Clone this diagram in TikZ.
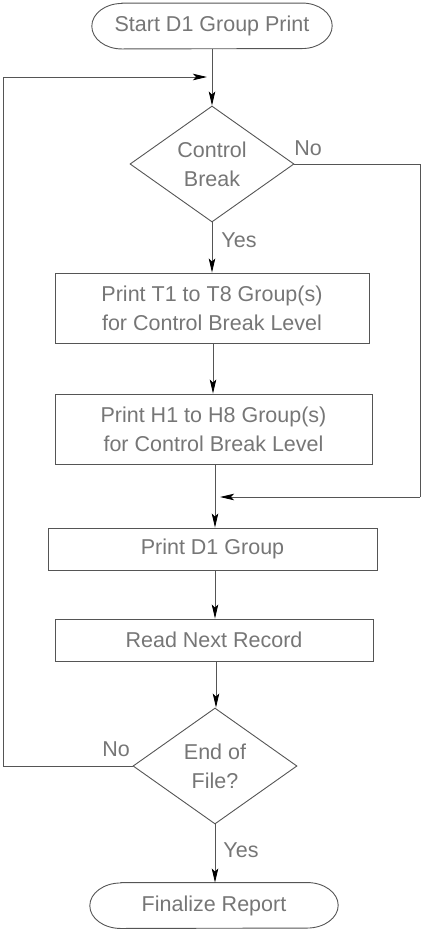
\documentclass[tikz,border=0pt]{standalone}
\usepackage{fontspec}
\setmainfont{Liberation Sans}
\usetikzlibrary{arrows.meta,shapes.geometric}

\definecolor{inkline}{RGB}{85,85,85}
\definecolor{inktext}{RGB}{118,118,118}

\tikzset{
  base/.style={font=\fontsize{21.5}{29}\selectfont, text=inktext, align=center, inner sep=0pt},
  procbox/.style={base, draw=inkline, line width=0.9pt, rectangle},
  decision/.style={base, draw=inkline, line width=0.9pt, diamond, aspect=1.4,
                   minimum width=164pt, minimum height=116pt},
  terminal/.style={base, rectangle, draw=none},
  flow/.style={draw=inkline, line width=0.9pt,
               -{Stealth[length=14pt,width=6.5pt,inset=3pt,color=black]}},
  plain/.style={draw=inkline, line width=0.9pt},
  lbl/.style={font=\fontsize{21.5}{29}\selectfont, text=inktext, inner sep=0pt}
}

% outline of a start/stop terminal: straight top and bottom, elliptic ends
\newcommand\termoutline[2]{%
  \draw[plain] ([xshift=#2]#1.north west) -- ([xshift=-#2]#1.north east)
    arc[start angle=90,end angle=-90,x radius=#2,y radius=22.75pt]
    -- ([xshift=#2]#1.south west)
    arc[start angle=270,end angle=90,x radius=#2,y radius=22.75pt] -- cycle;}

\begin{document}
\begin{tikzpicture}[x=1pt,y=1pt]
  \useasboundingbox (0,0) rectangle (422,-930);

  % nodes
  \node[terminal, minimum width=240pt, minimum height=45.5pt] (start) at (212,-26) {Start D1 Group Print};
  \node[decision] (brk) at (212,-164) {Control\\Break};
  \node[procbox, minimum width=314pt, minimum height=70pt] (trail) at (212,-308)
       {Print T1 to T8 Group(s)\\for Control Break Level};
  \node[procbox, minimum width=317pt, minimum height=70pt] (head) at (213.5,-429)
       {Print H1 to H8 Group(s)\\for Control Break Level};
  \node[procbox, minimum width=329pt, minimum height=42pt] (detail) at (212.5,-549) {Print D1 Group};
  \node[procbox, minimum width=318pt, minimum height=42pt] (read) at (214,-640) {Read Next Record};
  \node[decision] (eof) at (215,-766) {End of\\File?};
  \node[terminal, minimum width=248pt, minimum height=45.5pt] (fin) at (214,-905.5) {Finalize Report};

  \termoutline{start}{30pt}
  \termoutline{fin}{31pt}

  % helper points for the bends
  \coordinate (noright) at (420,-164);
  \coordinate (merge) at (420,-497);
  \coordinate (mergetip) at (220,-497);
  \coordinate (loopleft) at (3,-766);
  \coordinate (looptop) at (3,-77);
  \coordinate (looptip) at (207,-77);

  % main flow
  \draw[flow] (start.south) -- (start.south |- brk.north);
  \draw[flow] (brk.south) -- (brk.south |- trail.north);
  \draw[flow] (trail.south -| 213,0) -- (213,0 |- head.north);
  \draw[flow] (215,0 |- head.south) -- (215,0 |- detail.north);
  \draw[flow] (215,0 |- detail.south) -- (215,0 |- read.north);
  \draw[flow] (216,0 |- read.south) -- (216,0 |- eof.north);
  \draw[flow] (eof.south) -- (eof.south |- fin.north);

  % "No" branch of the control break test
  \draw[plain] (brk.east) -- (noright) -- (merge);
  \draw[flow] (merge) -- (mergetip);

  % loop back for the next record
  \draw[plain] (eof.west) -- (loopleft) -- (looptop);
  \draw[flow] (looptop) -- (looptip);

  % branch labels
  \node[lbl] at (308,-148) {No};
  \node[lbl] at (239,-240) {Yes};
  \node[lbl] at (116,-749) {No};
  \node[lbl] at (241,-850) {Yes};
\end{tikzpicture}
\end{document}
